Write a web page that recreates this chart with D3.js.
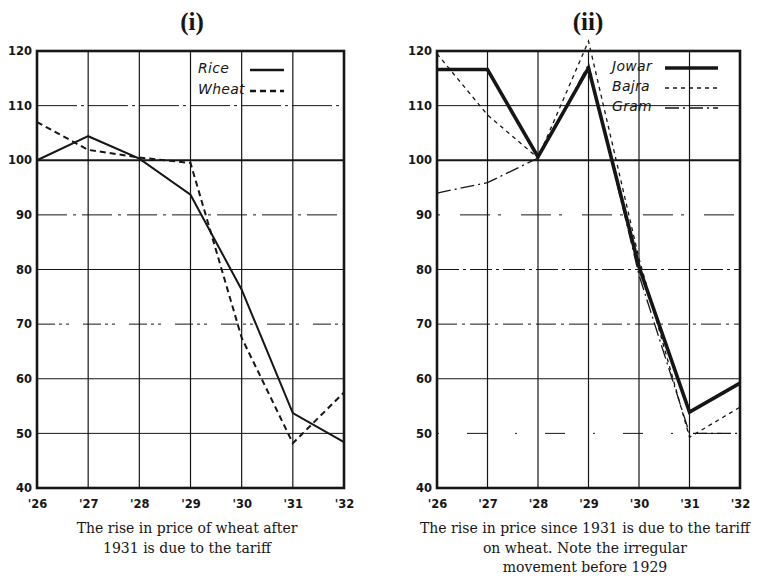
<!DOCTYPE html>
<html>
<head>
<meta charset="utf-8">
<script src="https://cdn.jsdelivr.net/npm/d3@7"></script>
<style>
  body { margin: 0; background: #fff; }
  svg { display: block; }
</style>
</head>
<body>
<svg id="chart" width="759" height="581"></svg>
<script>
// year labels shared by both panels
const years = ["'26", "'27", "'28", "'29", "'30", "'31", "'32"];
const yTicks = [40, 50, 60, 70, 80, 90, 100, 110, 120];

// panel (i)
const rice  = [100, 104.4, 100.3, 93.7, 76.3, 53.7, 48.4];
const wheat = [107, 101.9, 100.5, 99.5, 67.5, 48.2, 57.5];

// panel (ii)
const jowar = [116.6, 116.6, 100.6, 116.9, 80.5, 53.9, 59.2];
const bajra = [119.5, 108.3, 100.4, 121.8, 82, 49.3, 54.8];
const gram  = [94, 95.9, 100.4, 117.5, 79, 50, 50];

const svg = d3.select('#chart');
const ink = '#161616';

// dash styles for horizontal grid lines (per value) in each panel
const gridDashL = {50: null, 60: null, 70: '18,4,3,4,3,14', 80: null, 90: '30,6,3,6', 110: '40,4,3,4'};
const gridDashR = {50: '2,28,20,28', 60: null, 70: '20,5,3,5', 80: '22,4,3,4', 90: '3,20,30,8', 110: null};

function panel(opts) {
  const g = svg.append('g');
  const x = d3.scalePoint().domain(years).range([opts.x0, opts.x1]);
  const y = d3.scaleLinear().domain([40, 120]).range([488, 51]);

  // vertical grid
  years.slice(1, -1).forEach(t => {
    g.append('line')
      .attr('x1', x(t)).attr('x2', x(t))
      .attr('y1', y(120)).attr('y2', y(40))
      .attr('stroke', ink).attr('stroke-width', 1.2);
  });

  // horizontal grid
  yTicks.slice(1, -1).forEach(v => {
    const ln = g.append('line')
      .attr('x1', opts.x0).attr('x2', opts.x1)
      .attr('y1', y(v)).attr('y2', y(v))
      .attr('stroke', ink)
      .attr('stroke-width', v === 100 ? 2.2 : 1);
    if (v !== 100 && opts.gridDash[v]) ln.attr('stroke-dasharray', opts.gridDash[v]);
  });

  // series
  const line = d3.line().x((d, i) => x(years[i])).y(d => y(d));
  opts.series.forEach(s => {
    g.append('path')
      .datum(s.values)
      .attr('d', line)
      .attr('fill', 'none')
      .attr('stroke', ink)
      .attr('stroke-width', s.width)
      .attr('stroke-dasharray', s.dash)
      .attr('stroke-linejoin', 'miter');
  });

  // frame
  g.append('rect')
    .attr('x', opts.x0).attr('y', y(120))
    .attr('width', opts.x1 - opts.x0).attr('height', y(40) - y(120))
    .attr('fill', 'none').attr('stroke', ink).attr('stroke-width', 2.6);

  // y axis labels
  const ya = g.append('g')
    .attr('transform', `translate(${opts.x0 - 5},0)`)
    .call(d3.axisLeft(y).tickValues(yTicks).tickSize(0).tickPadding(0));
  ya.select('.domain').remove();
  ya.selectAll('text')
    .attr('font-family', 'DejaVu Sans, sans-serif')
    .attr('font-weight', 'bold')
    .attr('font-size', 11.5)
    .attr('fill', ink);

  // x axis labels
  const xa = g.append('g')
    .attr('transform', `translate(0,${y(40) + 12})`)
    .call(d3.axisBottom(x).tickSize(0).tickPadding(0));
  xa.select('.domain').remove();
  xa.selectAll('text')
    .attr('font-family', 'DejaVu Sans, sans-serif')
    .attr('font-weight', 'bold')
    .attr('font-size', 11.5)
    .attr('fill', ink);

  // title
  g.append('text')
    .attr('x', opts.titleX).attr('y', 30)
    .attr('text-anchor', 'middle')
    .attr('font-family', 'Liberation Serif, DejaVu Serif, serif')
    .attr('font-weight', 'bold')
    .attr('font-size', 25)
    .attr('fill', ink)
    .text(opts.title);

  // legend
  opts.series.forEach((s, i) => {
    const ly = opts.legendY + i * opts.legendGap;
    g.append('text')
      .attr('x', opts.legendTextX).attr('y', ly + 5)
      .attr('font-family', 'DejaVu Sans, sans-serif')
      .attr('font-style', 'italic')
      .attr('font-size', 14)
      .attr('letter-spacing', 0.3)
      .attr('fill', ink)
      .text(s.name);
    g.append('line')
      .attr('x1', opts.legendLineX0).attr('x2', opts.legendLineX1)
      .attr('y1', ly + 2).attr('y2', ly + 2)
      .attr('stroke', ink)
      .attr('stroke-width', s.legendWidth || s.width)
      .attr('stroke-dasharray', s.dash);
  });

  // caption
  opts.caption.forEach((c, i) => {
    g.append('text')
      .attr('x', opts.captionX).attr('y', 533 + i * 19.5)
      .attr('text-anchor', 'middle')
      .attr('font-family', 'DejaVu Serif, Liberation Serif, serif')
      .attr('font-size', 14)
      .attr('fill', ink)
      .text(c);
  });
}

panel({
  x0: 37, x1: 344, gridDash: gridDashL,
  title: '(i)', titleX: 192,
  series: [
    {name: 'Rice', values: rice, width: 2, dash: null, legendWidth: 2.6},
    {name: 'Wheat', values: wheat, width: 2, dash: '6,4', legendWidth: 2.6}
  ],
  legendY: 68, legendGap: 21, legendTextX: 198, legendLineX0: 250, legendLineX1: 284,
  caption: ['The rise in price of wheat after', '1931 is due to the tariff'],
  captionX: 187
});

panel({
  x0: 437, x1: 740, gridDash: gridDashR,
  title: '(ii)', titleX: 588,
  series: [
    {name: 'Jowar', values: jowar, width: 3.6, dash: null},
    {name: 'Bajra', values: bajra, width: 1.3, dash: '4,4', legendWidth: 1.6},
    {name: 'Gram', values: gram, width: 1.3, dash: '14,4,2,4', legendWidth: 1.6}
  ],
  legendY: 66, legendGap: 20, legendTextX: 612, legendLineX0: 665, legendLineX1: 718,
  caption: ['The rise in price since 1931 is due to the tariff', 'on wheat. Note the irregular', 'movement before 1929'],
  captionX: 585
});
</script>
</body>
</html>
